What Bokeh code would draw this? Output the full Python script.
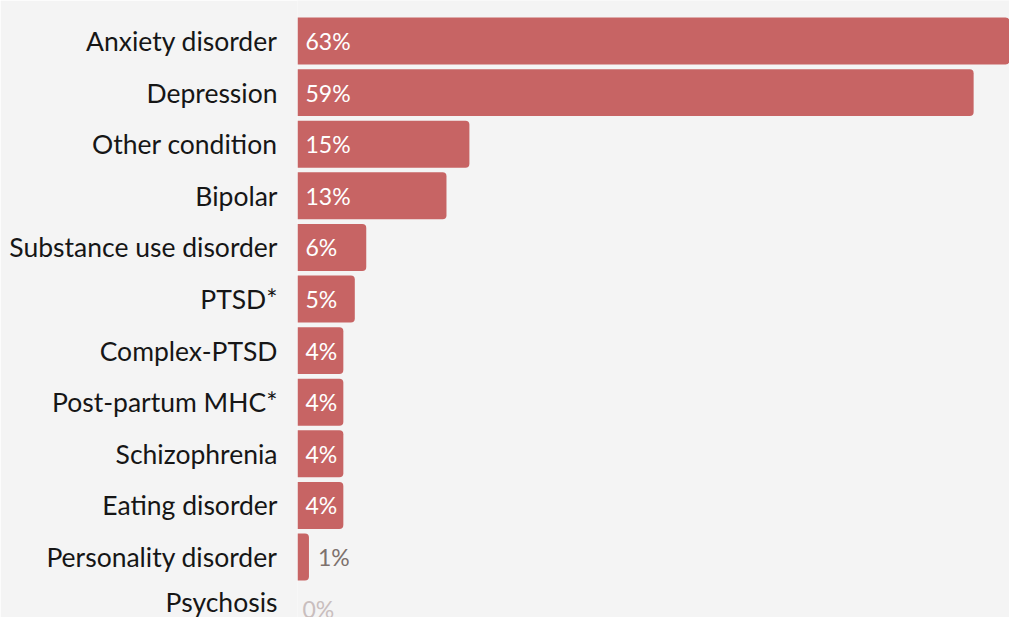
from bokeh.plotting import figure
from bokeh.models import ColumnDataSource, Range1d, FixedTicker
from bokeh.core.properties import value
from bokeh.embed import file_html
from bokeh.resources import INLINE

conditions = ["Anxiety disorder", "Depression", "Other condition", "Bipolar",
              "Substance use disorder", "PTSD*", "Complex-PTSD", "Post-partum MHC*",
              "Schizophrenia", "Eating disorder", "Personality disorder", "Psychosis"]
percent = [63, 59, 15, 13, 6, 5, 4, 4, 4, 4, 1, 0]

BAR = "#c76464"
BG = "#f4f4f4"
FONT = "Lato"

n = len(conditions)
rank = [n - 1 - i for i in range(n)]  # top row first
labels = [f"{v}%" for v in percent]
inside = [v >= 4 for v in percent]
lab_x = [0 if ins else v for v, ins in zip(percent, inside)]
lab_off = [8 if ins else (9 if v > 0 else 5) for v, ins in zip(percent, inside)]
lab_col = ["#ffffff" if ins else ("#7d716d" if v > 0 else "#c9bebe")
           for v, ins in zip(percent, inside)]

src = ColumnDataSource(dict(y=rank, val=percent, lx=lab_x, lo=lab_off,
                            lc=lab_col, lab=labels))

p = figure(width=1009, height=617, output_backend="svg", toolbar_location=None,
           y_range=Range1d(-0.172, 11.785), x_range=Range1d(0, 62.13),
           min_border_left=297, min_border_right=0, min_border_top=0, min_border_bottom=0,
           background_fill_color=BG, border_fill_color=BG, outline_line_color=None)

p.hbar(y="y", right="val", left=0, height=0.91, source=src, fill_color=BAR,
       line_color=None, border_radius=(0, 4, 4, 0))

p.text(x="lx", y="y", text="lab", x_offset="lo", source=src, text_color="lc",
       text_font=value(FONT), text_font_size="23px", text_baseline="middle",
       text_align="left")

p.xaxis.visible = False
yax = p.yaxis[0]
yax.ticker = FixedTicker(ticks=rank)
yax.major_label_overrides = {r: c for r, c in zip(rank, conditions)}
yax.axis_line_color = None
yax.major_tick_line_color = None
yax.minor_tick_line_color = None
yax.major_tick_out = 0
yax.major_tick_in = 0
yax.major_label_standoff = 20
yax.major_label_text_font = FONT
yax.major_label_text_font_size = "26.5px"
yax.major_label_text_color = "#161616"
p.xgrid.visible = False
p.ygrid.visible = False

open("out.html", "w").write(file_html(p, INLINE))
